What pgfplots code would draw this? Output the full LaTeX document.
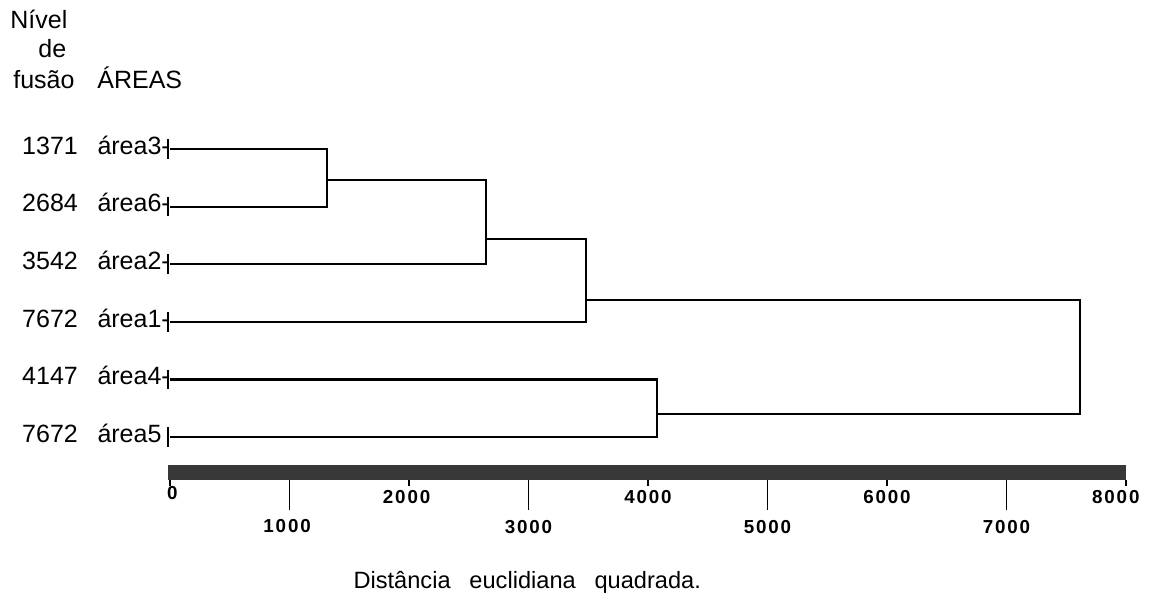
\documentclass[border=0pt]{standalone}
\usepackage{fontspec}
\setmainfont{Liberation Sans}
\newfontfamily\tickfont[LetterSpace=10]{Liberation Sans}
\usepackage{pgfplots}
\pgfplotsset{compat=1.18}
\definecolor{barcol}{HTML}{383838}
\begin{document}
\begin{tikzpicture}
\useasboundingbox (0,0) rectangle (576.5pt,302.5pt);
\begin{axis}[
  at={(85pt,26.4pt)}, anchor=south west,
  scale only axis, width=478pt, height=230.4pt,
  xmin=0, xmax=8000, ymin=0, ymax=8, y dir=reverse,
  hide axis, clip=false,
  every node/.append style={text=black}
]
% dendrogram (x: squared Euclidean distance, y: leaf position)
\addplot[black, line width=1.1pt, mark=none] coordinates {(0,1) (1314,1) (1314,2) (0,2)};
\addplot[black, line width=1.1pt, mark=none] coordinates {(1314,1.538) (2644,1.538) (2644,3) (0,3)};
\addplot[black, line width=1.1pt, mark=none] coordinates {(2644,2.562) (3481,2.562) (3481,4) (0,4)};
\addplot[black, line width=1.1pt, mark=none] coordinates {(0,5) (4075,5) (4075,6) (0,6)};
\addplot[black, line width=1.1pt, mark=none] coordinates {(3481,3.62) (7615,3.62) (7615,5.60) (4075,5.60)};
% leaf ticks
\addplot[black, only marks, mark=|, mark size=4.9pt, mark options={line width=1.1pt}] coordinates {(-15,1) (-15,2) (-15,3) (-15,4) (-15,5) (-15,6)};
% scale bar
\addplot[barcol, line width=7.5pt, line cap=butt, mark=none] coordinates {(-17,6.616) (8000,6.616)};
% scale ticks
\addplot[black, line width=0.9pt, mark=none, unbounded coords=jump] coordinates {
 (1000,6.747) (1000,7.267) (1000,nan)
 (3000,6.747) (3000,7.267) (3000,nan)
 (5000,6.747) (5000,7.267) (5000,nan)
 (7000,6.747) (7000,7.267) (7000,nan)
 (0,6.747) (0,6.85) (0,nan)
 (2000,6.747) (2000,6.85) (2000,nan)
 (4000,6.747) (4000,6.85) (4000,nan)
 (6000,6.747) (6000,6.85) (6000,nan)
 (8000,6.747) (8000,6.85)};
% tick labels
\tikzset{tl/.style={font=\tickfont\bfseries\fontsize{9.4}{11}\selectfont, inner sep=0pt}}
\node[tl] at (axis cs:20,6.97) {0};
\node[tl] at (axis cs:1980,7.04) {2000};
\node[tl] at (axis cs:4000,7.04) {4000};
\node[tl] at (axis cs:6000,7.04) {6000};
\node[tl] at (axis cs:7915,7.04) {8000};
\node[tl] at (axis cs:980,7.545) {1000};
\node[tl] at (axis cs:3000,7.56) {3000};
\node[tl] at (axis cs:5000,7.56) {5000};
\node[tl] at (axis cs:7000,7.56) {7000};
% axis title
\node[font=\fontsize{11.8}{14}\selectfont, inner sep=0pt] at (axis cs:2990,8.52) {Distância\hspace{0.8em}euclidiana\hspace{0.8em}quadrada.};
% leaf labels
\tikzset{ll/.style={font=\fontsize{12.5}{14}\selectfont, anchor=mid west, inner sep=0pt}}
\node[ll] at (axis cs:-1240,1) {1371};
\node[ll] at (axis cs:-1240,2) {2684};
\node[ll] at (axis cs:-1240,3) {3542};
\node[ll] at (axis cs:-1240,4) {7672};
\node[ll] at (axis cs:-1240,5) {4147};
\node[ll] at (axis cs:-1240,6) {7672};
\node[ll] at (axis cs:-610,1) {área3-};
\node[ll] at (axis cs:-610,2) {área6-};
\node[ll] at (axis cs:-610,3) {área2-};
\node[ll] at (axis cs:-610,4) {área1-};
\node[ll] at (axis cs:-610,5) {área4-};
\node[ll] at (axis cs:-610,6) {área5};
% header
\node[ll] at (axis cs:-1339,-1.187) {Nível};
\node[ll] at (axis cs:-1105,-0.684) {de};
\node[ll] at (axis cs:-1314,-0.146) {fusão};
\node[ll] at (axis cs:-611,-0.146) {ÁREAS};
\end{axis}
\end{tikzpicture}
\end{document}
